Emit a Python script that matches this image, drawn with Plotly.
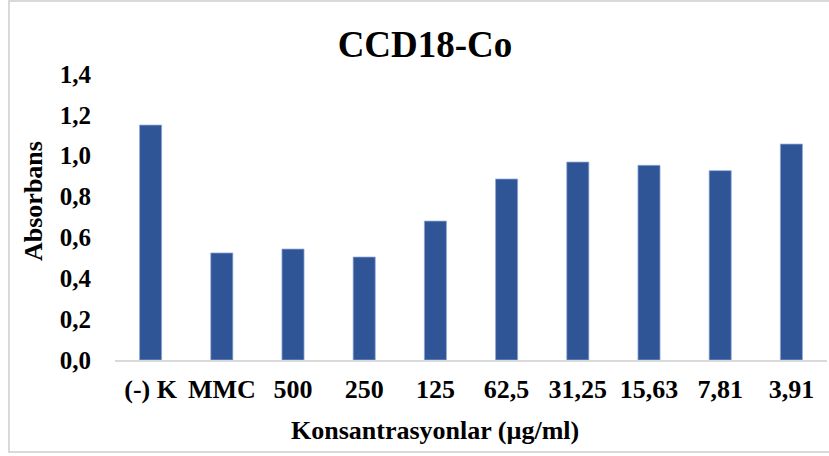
import plotly.graph_objects as go

categories = ["(-) K", "MMC", "500", "250", "125", "62,5", "31,25", "15,63", "7,81", "3,91"]
absorbance = [1.150, 0.524, 0.543, 0.504, 0.680, 0.886, 0.969, 0.953, 0.927, 1.057]
y_ticks = [0.0, 0.2, 0.4, 0.6, 0.8, 1.0, 1.2, 1.4]

FONT = "Liberation Serif, Times New Roman, serif"

fig = go.Figure(
    go.Bar(
        x=categories,
        y=absorbance,
        width=0.31,
        marker=dict(color="#2F5597", line=dict(color="#8FA8D8", width=0.75)),
    )
)

fig.update_layout(
    width=829,
    height=456,
    margin=dict(l=115, r=2, t=74, b=96),
    paper_bgcolor="white",
    plot_bgcolor="white",
    separators=",.",
    showlegend=False,
    font=dict(family=FONT, color="black", size=25, weight="bold"),
    title=dict(
        text="CCD18-Co",
        font=dict(family=FONT, size=37, color="black", weight="bold"),
        x=425 / 829,
        xref="container",
        xanchor="center",
        y=1 - 44 / 456,
        yref="container",
        yanchor="middle",
    ),
)

fig.update_xaxes(
    type="category",
    showgrid=False,
    showline=True,
    linecolor="#D9D9D9",
    linewidth=2,
    ticks="",
    tickfont=dict(family=FONT, size=26, color="black", weight="bold"),
    ticklabelstandoff=5,
)
fig.update_yaxes(
    range=[0, 1.4],
    tickvals=y_ticks,
    tickformat=".1f",
    showgrid=False,
    zeroline=False,
    showline=False,
    ticks="",
    tickfont=dict(family=FONT, size=25, color="black", weight="bold"),
    ticklabelstandoff=23,
)

# axis titles
fig.add_annotation(
    text="Konsantrasyonlar (µg/ml)",
    xref="paper", yref="paper",
    x=(435 - 115) / 712, y=(360 - 430) / 286,
    xanchor="center", yanchor="middle",
    showarrow=False,
    font=dict(family=FONT, size=26, color="black", weight="bold"),
)
fig.add_annotation(
    text="Absorbans",
    xref="paper", yref="paper",
    x=(33 - 115) / 712, y=(360 - 201) / 286,
    xanchor="center", yanchor="middle",
    textangle=-90,
    showarrow=False,
    font=dict(family=FONT, size=26, color="black", weight="bold"),
)

# outer chart border
fig.add_shape(
    type="rect",
    xref="paper", yref="paper",
    x0=(9 - 115) / 712, x1=(840 - 115) / 712,
    y0=(360 - 452) / 286, y1=(360 - 1) / 286,
    line=dict(color="#D9D9D9", width=2),
    fillcolor="rgba(0,0,0,0)",
    layer="below",
)

fig.write_html(
    "out.html",
    config={"displayModeBar": False},
    post_script="document.body.style.margin='0';document.body.style.padding='0';",
)
